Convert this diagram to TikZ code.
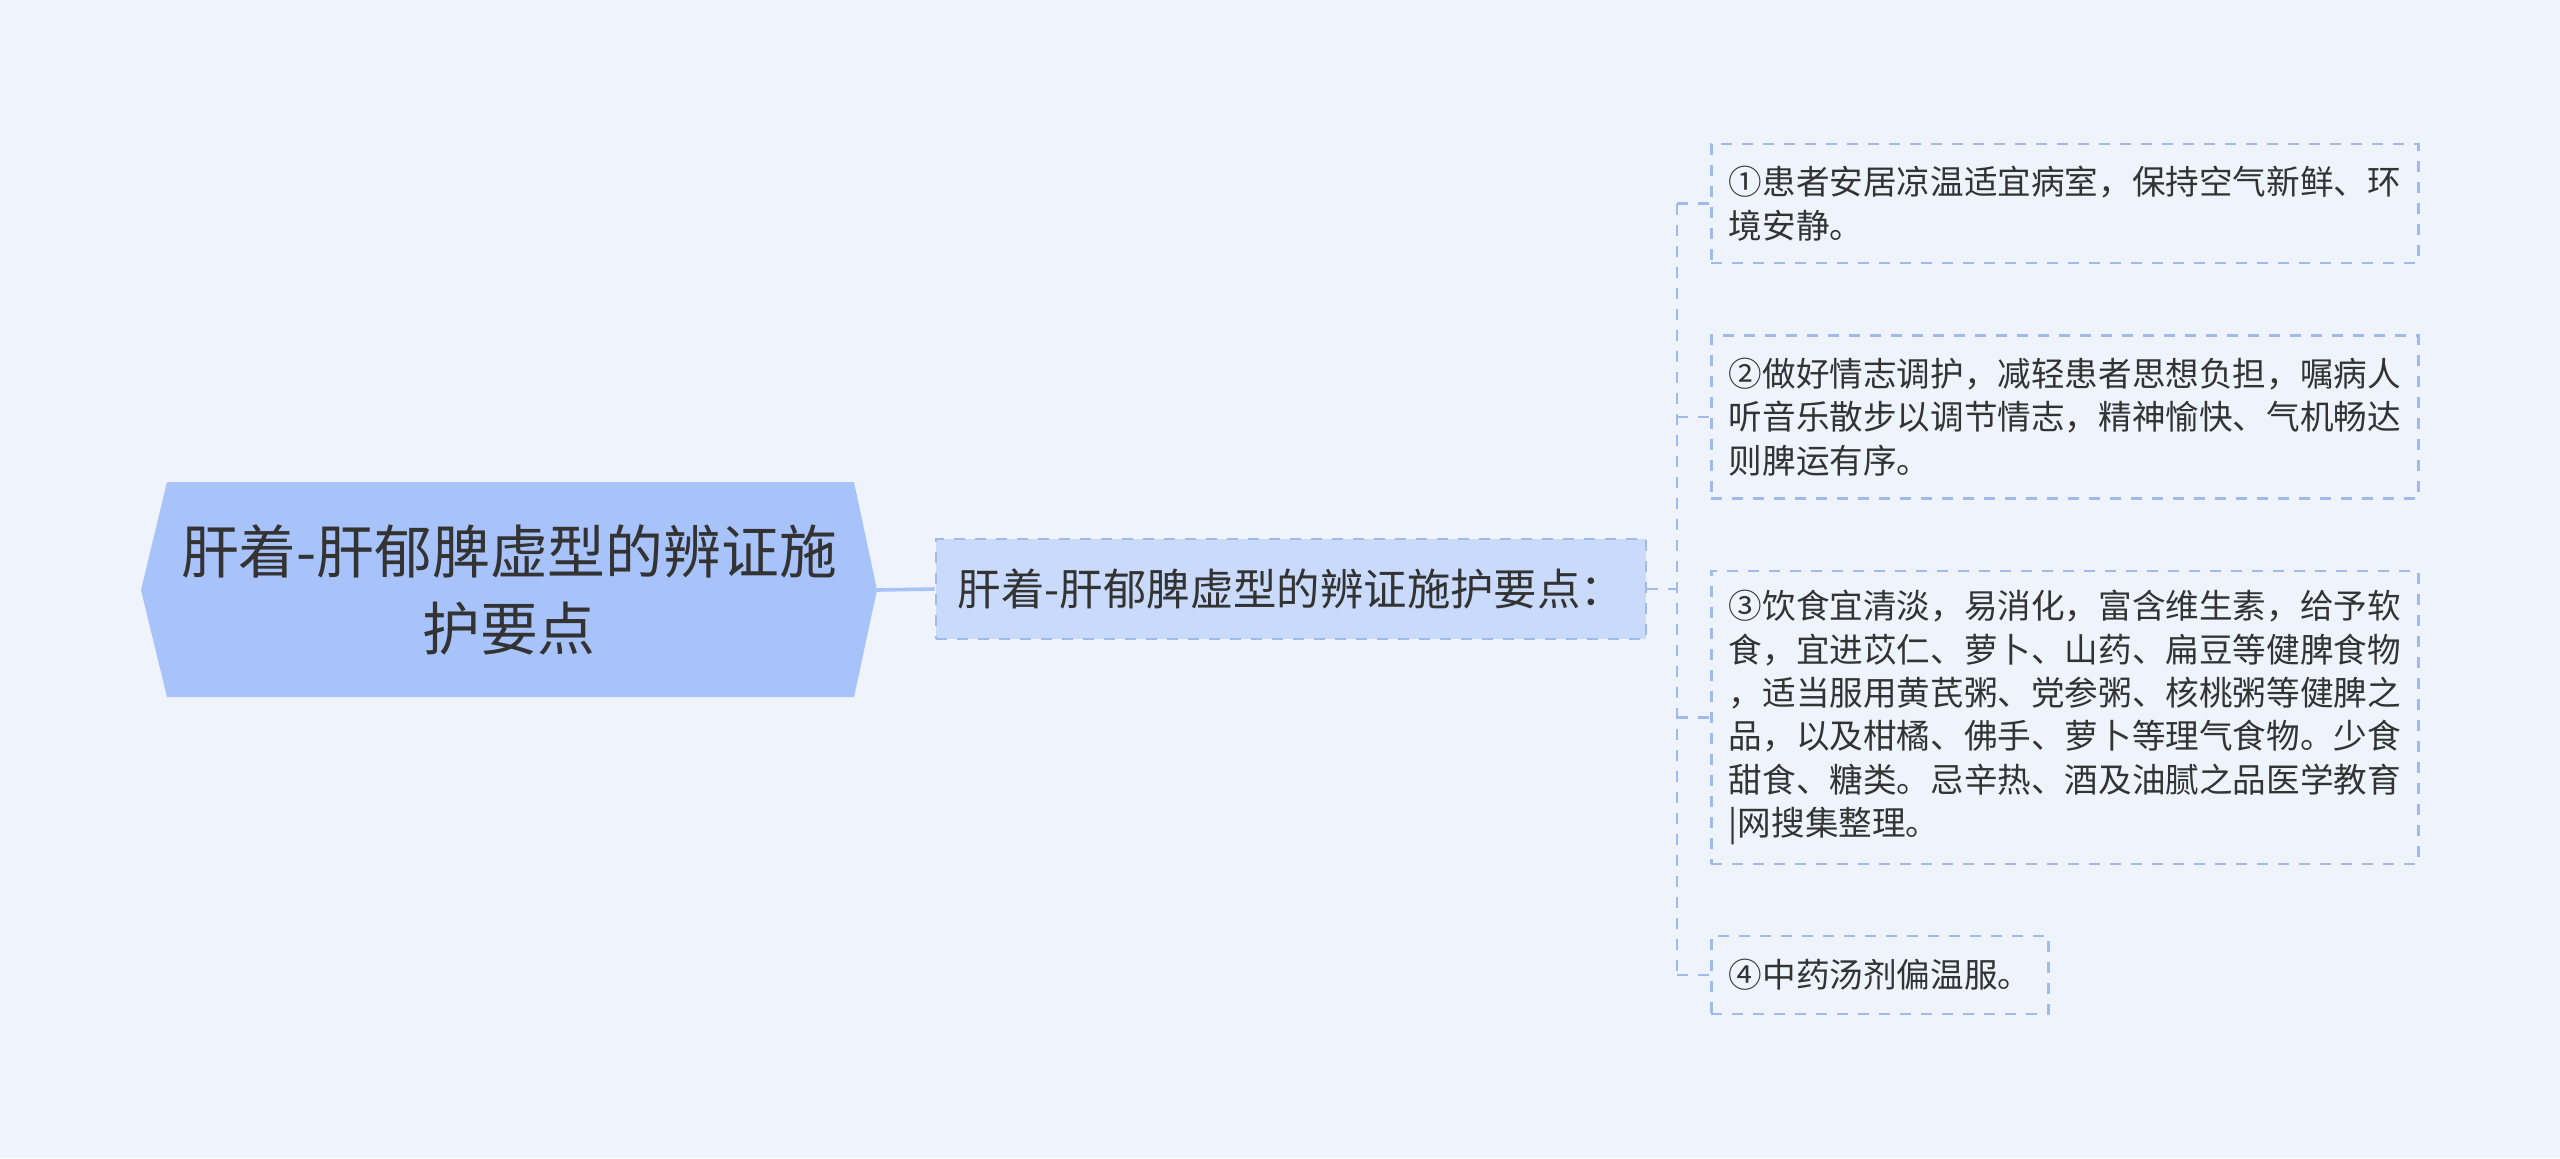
\documentclass[tikz,border=0pt]{standalone}
\usepackage{fontspec}
\setmainfont{Noto Sans CJK SC}
\definecolor{bg}{HTML}{EEF3FC}
\definecolor{rootfill}{HTML}{A8C2FA}
\definecolor{hubfill}{HTML}{C9DAFA}
\definecolor{edge}{HTML}{A0BAEA}
\definecolor{ink}{HTML}{333333}
\tikzset{
every picture/.style={
line width=1pt
}}

\begin{document}
\begin{tikzpicture}[x=0.5pt, y=-0.5pt,
leaf/.style = {rectangle, draw=edge, line width=1.3pt, dash pattern=on 5.5pt off 5pt, align=left, text=ink,
  inner xsep=8.75pt, anchor=west, minimum width=353.5pt, font=\fontsize{16.8}{21.7}\selectfont},
hub/.style = {rectangle, draw=edge, fill=hubfill, line width=1.3pt, dash pattern=on 5.5pt off 5pt, text=ink,
  minimum width=355pt, minimum height=50pt, font=\fontsize{21.7}{26}\selectfont},
link/.style = {draw=edge, line width=1.3pt, dash pattern=on 5.5pt off 5pt}]

\fill[bg] (0,0) rectangle (2560,1158);
\useasboundingbox (0,0) rectangle (2560,1158);

% root
\fill[rootfill] (141,590) -- (167,482) -- (854,482) -- (877,590) -- (854,697) -- (167,697) -- cycle;
\node[align=center, text=ink, font=\fontsize{28.9}{38.5}\selectfont] (root) at (509,590) {肝着-肝郁脾虚型的辨证施\\护要点};
\coordinate (rootE) at (877,590);

% hub
\node[hub] (hub) at (1291,589) {肝着-肝郁脾虚型的辨证施护要点：};
\draw[draw=rootfill, line width=1.8pt] (rootE) -- (hub.west);

% leaves
\node[leaf, minimum height=59.5pt] (l1) at (1710,203.5) {①患者安居凉温适宜病室，保持空气新鲜、环\\境安静。};
\node[leaf, minimum height=81.5pt] (l2) at (1710,417) {②做好情志调护，减轻患者思想负担，嘱病人\\听音乐散步以调节情志，精神愉快、气机畅达\\则脾运有序。};
\node[leaf, minimum height=146.5pt] (l3) at (1710,717.5) {③饮食宜清淡，易消化，富含维生素，给予软\\食，宜进苡仁、萝卜、山药、扁豆等健脾食物\\，适当服用黄芪粥、党参粥、核桃粥等健脾之\\品，以及柑橘、佛手、萝卜等理气食物。少食\\甜食、糖类。忌辛热、酒及油腻之品医学教育\\|网搜集整理。};
\node[leaf, minimum width=0pt, minimum height=39pt] (l4) at (1710,975) {④中药汤剂偏温服。};

% connectors
\coordinate (trunk) at (1677,589);
\draw[link] (hub.east) -- (trunk);
\draw[link] (l1.west -| trunk) -- (l4.west -| trunk);
\foreach \n in {l1,l2,l3,l4}
  \draw[link] (\n.west -| trunk) -- (\n.west);
\end{tikzpicture}
\end{document}
